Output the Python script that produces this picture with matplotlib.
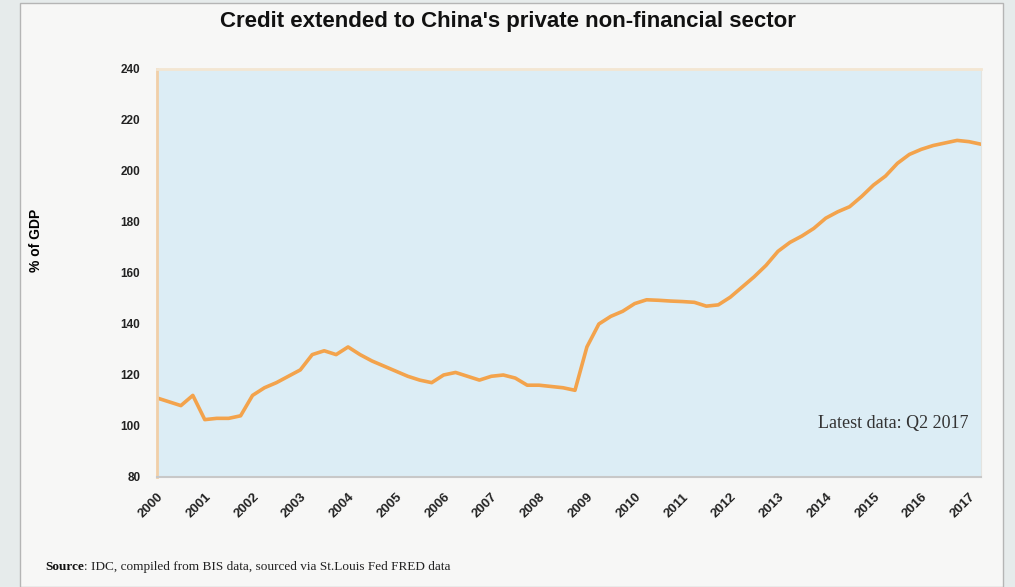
import matplotlib
matplotlib.use("Agg")
import matplotlib.pyplot as plt
from matplotlib.patches import Rectangle
from matplotlib.text import Annotation

# Quarterly data, 2000Q1 .. 2017Q2 (% of GDP)
credit = [111, 109.5, 108, 112, 102.5, 103, 103, 104, 112, 115,
          117, 119.5, 122, 128, 129.5, 128, 131, 128, 125.5, 123.5,
          121.5, 119.5, 118, 117, 120, 121, 119.5, 118, 119.5, 120,
          118.8, 116, 116, 115.5, 115, 114, 131, 140, 143, 145,
          148, 149.5, 149.3, 149, 148.8, 148.5, 147, 147.5, 150.5, 154.5,
          158.5, 163, 168.5, 172, 174.5, 177.5, 181.5, 184, 186, 190,
          194.5, 198, 203, 206.5, 208.5, 210, 211, 212, 211.5, 210.5]
years = list(range(2000, 2018))
y_ticks = [80, 100, 120, 140, 160, 180, 200, 220, 240]

title = "Credit extended to China's private non-financial sector"
ylabel = "% of GDP"
note = "Latest data: Q2 2017"
source_head = "Source"
source_rest = ": IDC, compiled from BIS data, sourced via St.Louis Fed FRED data"

sans = ["Liberation Sans", "DejaVu Sans"]
serif = ["Liberation Serif", "DejaVu Serif"]

fig = plt.figure(figsize=(10.15, 5.87), dpi=100)
fig.patch.set_facecolor("#e6ebeb")
# panel behind the chart
panel = Rectangle((20 / 1015, 0), 983 / 1015, 584 / 587,
                  transform=fig.transFigure, facecolor="#f7f7f6",
                  edgecolor="#b5b5b5", linewidth=1.0, zorder=-10)
fig.patches.append(panel)

ax = fig.add_axes([157 / 1015, 1 - 477 / 587, 824 / 1015, 408 / 587])
ax.set_facecolor("#dcedf5")

x = list(range(len(credit)))
ax.plot(x, credit, color="#f3a34c", linewidth=2.6, solid_joinstyle="round")

ax.set_xlim(0, len(credit) - 1)
ax.set_ylim(80, 240)
ax.set_yticks(y_ticks)
ax.set_yticklabels([str(v) for v in y_ticks], family=sans, fontweight="bold", fontsize=8.5)
ax.set_xticks([4 * i for i in range(len(years))])
ax.set_xticklabels([str(y) for y in years], family=sans, fontweight="bold",
                   fontsize=9.5, rotation=45, ha="right", rotation_mode="anchor")
ax.tick_params(length=0, pad=12, colors="#222222")
ax.tick_params(axis="x", pad=10)

ax.spines["left"].set_color("#f1cfa8")
ax.spines["left"].set_linewidth(2)
ax.spines["top"].set_color("#f3e6d2")
ax.spines["top"].set_linewidth(2)
ax.spines["right"].set_color("#e4e4e0")
ax.spines["bottom"].set_color("#c8c8c8")
ax.spines["bottom"].set_linewidth(1.5)

ax.set_ylabel(ylabel, family=sans, fontweight="bold", fontsize=10, labelpad=0)
ax.yaxis.set_label_coords(-0.138, 0.58)

ax.text(0.985, 0.13, note, transform=ax.transAxes, ha="right", va="center",
        family=serif, fontsize=13, color="#333333")

fig.text(0.5, 1 - 22 / 587, title, ha="center", va="center", family=sans,
         fontweight="bold", fontsize=16, color="#111111")

head = fig.text(45 / 1015, 1 - 567 / 587, source_head, ha="left", va="center",
                family=serif, fontweight="bold", fontsize=9.5, color="#111111")
# rest of the source line right after the bold head
fig.add_artist(Annotation(source_rest, xy=(1, 0), xycoords=head,
                          va="bottom", ha="left", family=serif,
                          fontsize=9.5, color="#222222"))

fig.savefig("out.png", dpi=100, facecolor=fig.get_facecolor())
